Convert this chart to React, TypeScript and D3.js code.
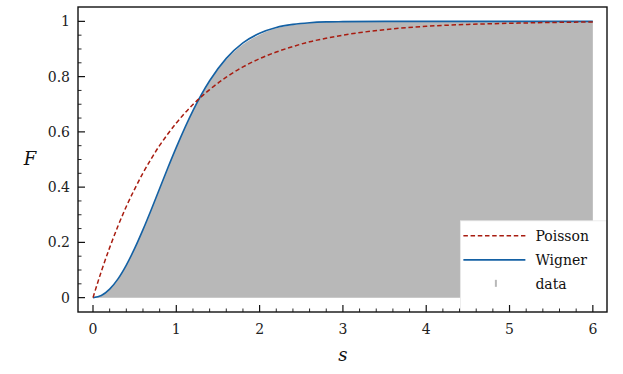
import React from 'react';
import * as d3 from 'd3';

// level spacing distribution, cumulative F(s)
const sGrid = [0, 0.1, 0.2, 0.3, 0.4, 0.5, 0.6, 0.7, 0.8, 0.9, 1.0, 1.2, 1.4, 1.6, 1.8, 2.0, 2.2, 2.4, 2.6, 2.8, 3.0, 3.5, 4.0, 4.5, 5.0, 5.5, 6.0];
const poisson = [0, 0.095, 0.181, 0.259, 0.33, 0.393, 0.451, 0.503, 0.551, 0.593, 0.632, 0.699, 0.753, 0.798, 0.835, 0.865, 0.889, 0.909, 0.926, 0.939, 0.95, 0.97, 0.982, 0.989, 0.993, 0.996, 0.998];
const wigner = [0, 0.008, 0.031, 0.068, 0.118, 0.178, 0.246, 0.319, 0.395, 0.471, 0.544, 0.677, 0.785, 0.866, 0.922, 0.957, 0.978, 0.989, 0.995, 0.998, 0.999, 1, 1, 1, 1, 1, 1];
const dataF = [0, 0.006, 0.03, 0.067, 0.117, 0.177, 0.245, 0.318, 0.394, 0.47, 0.543, 0.675, 0.782, 0.861, 0.916, 0.952, 0.975, 0.987, 0.994, 0.997, 0.999, 1, 1, 1, 1, 1, 1];

const xTicks = [0, 1, 2, 3, 4, 5, 6];
const yTicks = [0, 0.2, 0.4, 0.6, 0.8, 1];
const legendItems = ['Poisson', 'Wigner', 'data'];

const W = 623;
const H = 374;
const margin = { top: 7, right: 16, bottom: 62, left: 78 };
const font = 'DejaVu Serif';
const red = '#a81c10';
const blue = '#1461a4';
const gray = '#b8b8b8';

export default function App() {
  const iw = W - margin.left - margin.right;
  const ih = H - margin.top - margin.bottom;
  const x = d3.scaleLinear().domain([-0.18, 6.17]).range([0, iw]);
  const y = d3.scaleLinear().domain([-0.052, 1.052]).range([ih, 0]);

  const line = d3.line<number>()
    .x((_, i) => x(sGrid[i]))
    .y(d => y(d))
    .curve(d3.curveMonotoneX);
  const area = d3.area<number>()
    .x((_, i) => x(sGrid[i]))
    .y0(y(0))
    .y1(d => y(d))
    .curve(d3.curveMonotoneX);

  const xMinor = d3.range(0, 6.01, 0.2).filter(v => Math.abs(v - Math.round(v)) > 0.01);
  const yMinor = d3.range(0, 1.001, 0.05).filter(v => Math.abs(v * 5 - Math.round(v * 5)) > 0.01);

  const lx = x(4.41);
  const ly = y(0.278);

  return (
    <svg width={W} height={H} style={{ position: 'absolute', left: 0, top: 0 }}>
      <rect width={W} height={H} fill="white" />
      <g transform={`translate(${margin.left},${margin.top})`} fontFamily={font}>
        <path d={area(dataF) ?? ''} fill={gray} />
        <path d={line(wigner) ?? ''} fill="none" stroke={blue} strokeWidth={1.6} />
        <path d={line(poisson) ?? ''} fill="none" stroke={red} strokeWidth={1.5} strokeDasharray="4.5,2.7" />

        {/* legend */}
        <rect x={lx} y={ly} width={iw - lx} height={ih - ly} fill="white" stroke="#e8e8e8" strokeWidth={0.8} />
        {legendItems.map((name, i) => {
          const cy = ly + 15 + i * 24;
          return (
            <g key={name}>
              {i === 0 && <line x1={lx + 3} x2={lx + 65} y1={cy} y2={cy} stroke={red} strokeWidth={1.5} strokeDasharray="4.5,2.7" />}
              {i === 1 && <line x1={lx + 3} x2={lx + 65} y1={cy} y2={cy} stroke={blue} strokeWidth={1.6} />}
              {i === 2 && <rect x={lx + 34.5} y={cy - 4} width={2} height={7} fill={gray} />}
              <text x={lx + 75} y={cy + 5} fontSize={14} fill="#111">{name}</text>
            </g>
          );
        })}

        {/* frame */}
        <rect x={0} y={0} width={iw} height={ih} fill="none" stroke="#111" strokeWidth={1.4} />

        {/* x ticks */}
        {xTicks.map(t => (
          <g key={t} transform={`translate(${x(t)},${ih})`}>
            <line y1={0} y2={-7} stroke="#111" strokeWidth={1.2} />
            <text y={21.5} textAnchor="middle" fontSize={14} fill="#222">{t}</text>
          </g>
        ))}
        {xMinor.map(t => (
          <line key={t} x1={x(t)} x2={x(t)} y1={ih} y2={ih - 3.5} stroke="#111" strokeWidth={0.9} />
        ))}

        {/* y ticks */}
        {yTicks.map(t => (
          <g key={t} transform={`translate(0,${y(t)})`}>
            <line x1={0} x2={7} stroke="#111" strokeWidth={1.2} />
            <text x={-8} y={5} textAnchor="end" fontSize={14} fill="#222">{t === 0 || t === 1 ? t : t.toFixed(1)}</text>
          </g>
        ))}
        {yMinor.map(t => (
          <line key={t} x1={0} x2={3.5} y1={y(t)} y2={y(t)} stroke="#111" strokeWidth={0.9} />
        ))}
      </g>

      <text x={30} y={165} textAnchor="middle" fontSize={18} fontStyle="italic" fill="#111" fontFamily={font}>F</text>
      <text x={x(3) + margin.left} y={361} textAnchor="middle" fontSize={18} fontStyle="italic" fill="#111" fontFamily={font}>s</text>
    </svg>
  );
}
